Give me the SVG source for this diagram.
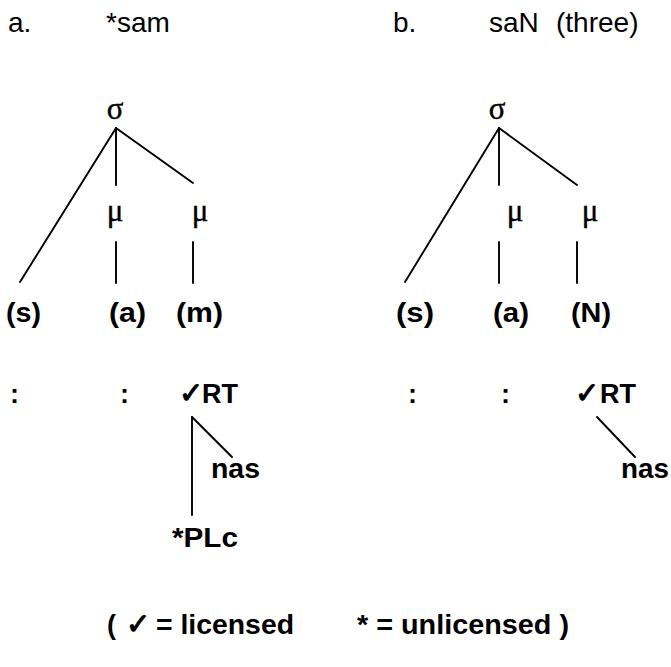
<svg xmlns="http://www.w3.org/2000/svg" width="671" height="667" viewBox="0 0 671 667">
<style>
.hd{font-family:"Liberation Sans",Arial,sans-serif;font-size:28px;fill:#000}
.gr{font-family:"Liberation Serif","Times New Roman",serif;font-size:31px;fill:#000;text-anchor:middle;stroke:#000;stroke-width:0.4}
.bd{font-family:"Liberation Sans",Arial,"DejaVu Sans",sans-serif;font-size:27px;font-weight:bold;fill:#000}
.ck{font-family:"DejaVu Sans",sans-serif;font-size:29px;font-weight:normal;fill:#000;stroke:#000;stroke-width:1.1;stroke-linejoin:round}
.ln{stroke:#000;stroke-width:1.9;fill:none;stroke-linecap:round}
</style>
<rect width="671" height="667" fill="#fff"/>
<g id="headers">
<text class="hd" x="8" y="32">a.</text>
<text class="hd" x="106" y="32">*sam</text>
<text class="hd" x="393" y="32">b.</text>
<text class="hd" x="489" y="32">saN</text>
<text class="hd" x="556" y="32">(three)</text>
</g>
<g id="connectors">
<line class="ln" x1="116" y1="128" x2="20" y2="282"/>
<line class="ln" x1="116" y1="128" x2="116" y2="185"/>
<line class="ln" x1="116" y1="128" x2="193" y2="183"/>
<line class="ln" x1="116" y1="242" x2="116" y2="283"/>
<line class="ln" x1="193" y1="242" x2="193" y2="283"/>
<line class="ln" x1="499" y1="128" x2="405" y2="282"/>
<line class="ln" x1="499" y1="128" x2="499" y2="185"/>
<line class="ln" x1="499" y1="128" x2="577" y2="185"/>
<line class="ln" x1="499" y1="242" x2="499" y2="283"/>
<line class="ln" x1="577" y1="242" x2="577" y2="283"/>
<line class="ln" x1="192" y1="417" x2="192" y2="515"/>
<line class="ln" x1="192" y1="417" x2="232" y2="457"/>
<line class="ln" x1="597" y1="417" x2="635" y2="457"/>
</g>
<g id="a-sigma"><text class="gr" x="115" y="119">σ</text></g>
<g id="a-mu1"><text class="gr" x="115" y="221">μ</text></g>
<g id="a-mu2"><text class="gr" x="200" y="221">μ</text></g>
<g id="a-s"><text class="bd" x="6" y="322" textLength="35" lengthAdjust="spacingAndGlyphs">(s)</text></g>
<g id="a-a"><text class="bd" x="109" y="322" textLength="37" lengthAdjust="spacingAndGlyphs">(a)</text></g>
<g id="a-m"><text class="bd" x="176" y="322" textLength="47" lengthAdjust="spacingAndGlyphs">(m)</text></g>
<g id="a-c1"><text class="bd" x="10" y="403">:</text></g>
<g id="a-c2"><text class="bd" x="120" y="403">:</text></g>
<g id="a-rt"><text class="bd" x="179" y="403"><tspan class="ck">✓</tspan><tspan x="202">RT</tspan></text></g>
<g id="a-nas"><text class="bd" x="211" y="478" textLength="49" lengthAdjust="spacingAndGlyphs">nas</text></g>
<g id="a-plc"><text class="bd" x="172" y="547" textLength="66" lengthAdjust="spacingAndGlyphs">*PLc</text></g>
<g id="b-sigma"><text class="gr" x="497" y="119">σ</text></g>
<g id="b-mu1"><text class="gr" x="515" y="221">μ</text></g>
<g id="b-mu2"><text class="gr" x="590" y="221">μ</text></g>
<g id="b-s"><text class="bd" x="396" y="322" textLength="38" lengthAdjust="spacingAndGlyphs">(s)</text></g>
<g id="b-a"><text class="bd" x="493" y="322" textLength="36" lengthAdjust="spacingAndGlyphs">(a)</text></g>
<g id="b-n"><text class="bd" x="571" y="322" textLength="40" lengthAdjust="spacingAndGlyphs">(N)</text></g>
<g id="b-c1"><text class="bd" x="408" y="403">:</text></g>
<g id="b-c2"><text class="bd" x="501" y="403">:</text></g>
<g id="b-rt"><text class="bd" x="575" y="403"><tspan class="ck">✓</tspan><tspan x="600">RT</tspan></text></g>
<g id="b-nas"><text class="bd" x="621" y="478" textLength="48" lengthAdjust="spacingAndGlyphs">nas</text></g>
<g id="legend">
<text class="bd" x="107" y="634">(</text>
<text class="ck" x="126" y="634">✓</text>
<text class="bd" x="156" y="634" textLength="138" lengthAdjust="spacingAndGlyphs">= licensed</text>
<text class="bd" x="357" y="634" textLength="212" lengthAdjust="spacingAndGlyphs">* = unlicensed )</text>
</g>
</svg>
